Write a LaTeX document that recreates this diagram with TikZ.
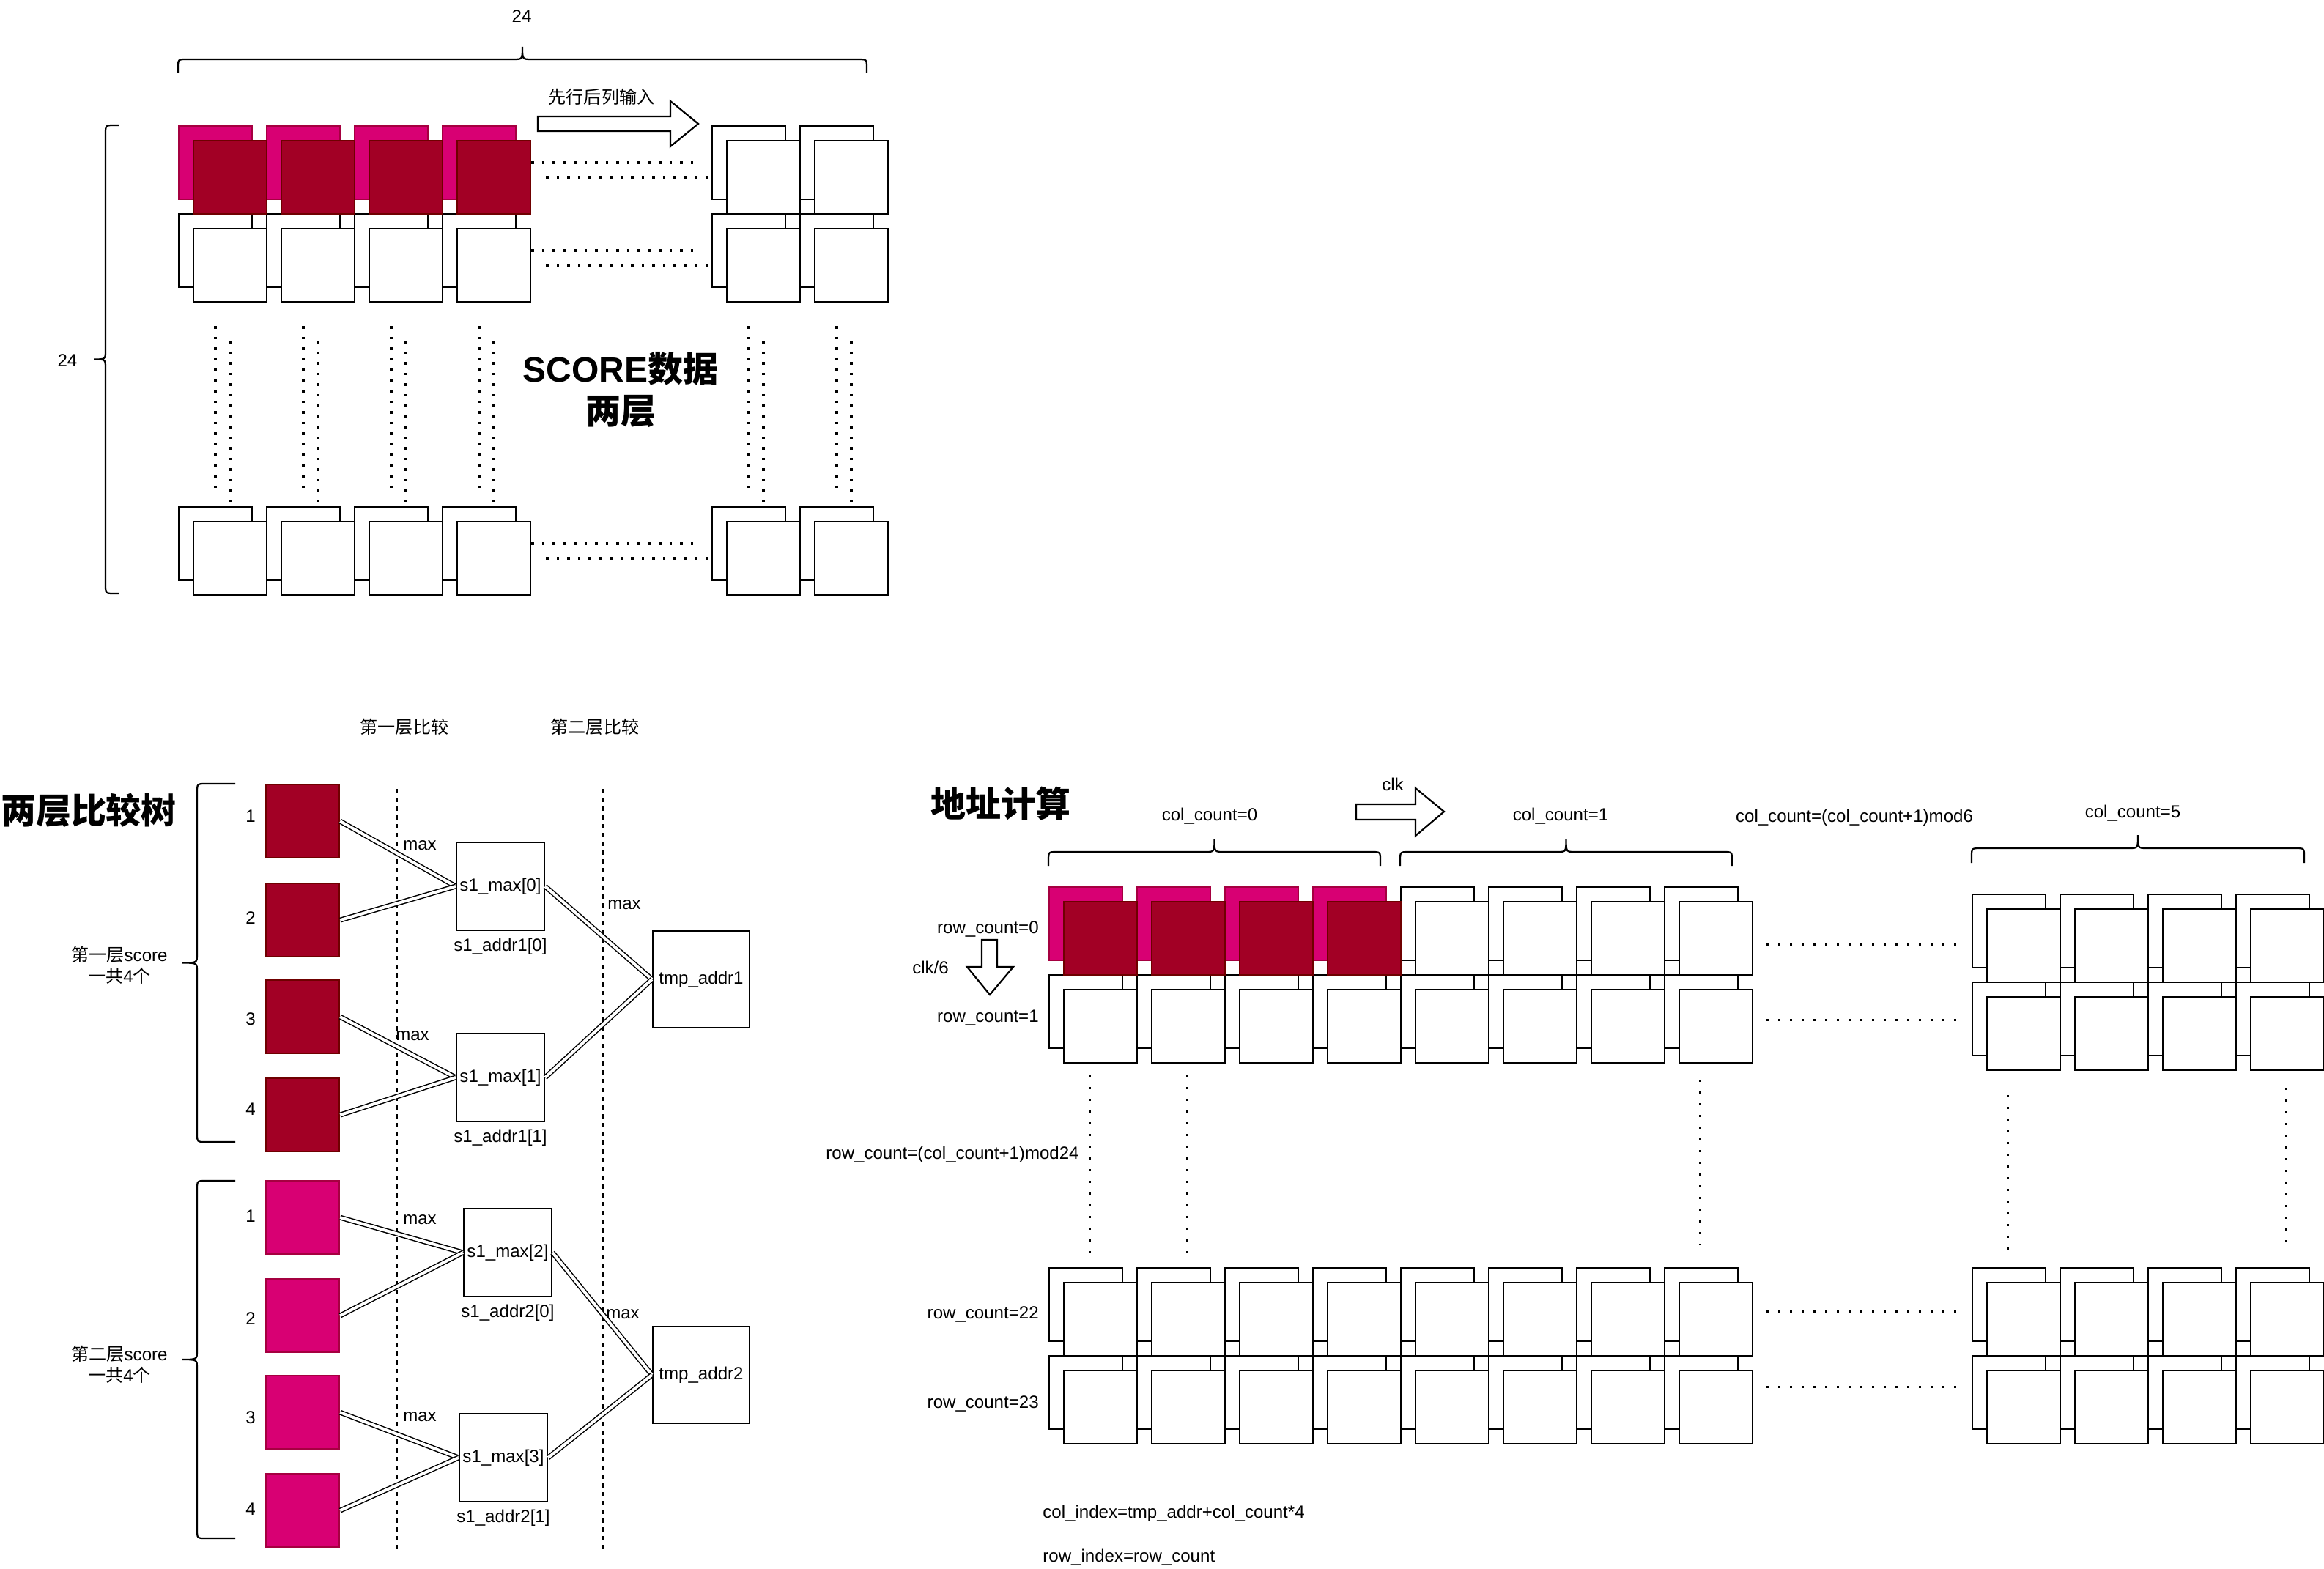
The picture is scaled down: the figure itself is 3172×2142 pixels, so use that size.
\documentclass[tikz,border=0pt]{standalone}
\usepackage{fontspec}
\setmainfont{Liberation Sans}
\newfontfamily\cjk{Noto Sans CJK SC}
\usetikzlibrary{positioning}

\definecolor{pfill}{HTML}{D80073}
\definecolor{pline}{HTML}{A50040}
\definecolor{rfill}{HTML}{A20025}
\definecolor{rline}{HTML}{6F0000}
\colorlet{wfill}{white}
\colorlet{wline}{black}

% curly brackets: x left, x right, y of the ends, y of the bar, y of the tip
\newcommand{\hbrace}[5]{%
  \pgfmathsetmacro{\bxm}{(#1+#2)/2}
  \draw[brace] (#1,#3) -- (#1,#4+12) .. controls (#1,#4) .. (#1+12,#4) -- (\bxm-12,#4)
    .. controls (\bxm,#4) .. (\bxm,#5) .. controls (\bxm,#4) .. (\bxm+12,#4)
    -- (#2-12,#4) .. controls (#2,#4) .. (#2,#4+12) -- (#2,#3);}
% x of the ends, x of the bar, x of the tip, y top, y bottom
\newcommand{\vbrace}[5]{%
  \pgfmathsetmacro{\bym}{(#4+#5)/2}
  \draw[brace] (#1,#4) -- (#2+12,#4) .. controls (#2,#4) .. (#2,#4+12) -- (#2,\bym-12)
    .. controls (#2,\bym) .. (#3,\bym) .. controls (#2,\bym) .. (#2,\bym+12)
    -- (#2,#5-12) .. controls (#2,#5) .. (#2+12,#5) -- (#1,#5);}

\begin{document}
\begin{tikzpicture}[x=0.2mm, y=-0.2mm,
lbl/.style={font=\fontsize{13.7}{16.5}\selectfont, inner sep=0pt, align=center},
txt/.style={lbl, yshift=-0.7mm},
ttl/.style={font=\fontsize{27.3}{32.4}\selectfont\bfseries, inner sep=0pt, align=center},
cell/.style={draw=#1line, fill=#1fill, line width=0.45mm, minimum width=20mm, minimum height=20mm, inner sep=0pt, anchor=north west},
cell/.default=w,
sbox/.style={draw, line width=0.45mm, minimum width=24mm, minimum height=24mm, inner sep=0pt, font=\fontsize{13.7}{16.5}\selectfont},
tbox/.style={sbox, minimum width=26.4mm, minimum height=26.4mm},
link/.style={double, double distance=0.8mm, line width=0.3mm},
guide/.style={line width=0.3mm, dash pattern=on 1.2mm off 1.2mm},
dotsA/.style={line width=0.7mm, dash pattern=on 0.7mm off 2.2mm},
dotsB/.style={line width=0.6mm, dash pattern=on 0.6mm off 2.6mm},
blockarr/.style={draw, fill=white, line width=0.45mm},
brace/.style={line width=0.45mm}
]
\useasboundingbox (0,0) rectangle (3172,2142);

% ---- SCORE data, two layers
\foreach \r/\y in {1/171,2/291,24/691}
  \foreach \c/\x in {1/243,2/363,3/483,4/603,5/971,6/1091} {
    \def\k{w}\ifnum\r=1 \ifnum\c<5 \def\k{p}\fi\fi
    \node[cell=\k] (bk-\r-\c) at (\x,\y) {};
  }
\foreach \r/\y in {1/171,2/291,24/691}
  \foreach \c/\x in {1/243,2/363,3/483,4/603,5/971,6/1091} {
    \def\k{w}\ifnum\r=1 \ifnum\c<5 \def\k{r}\fi\fi
    \node[cell=\k] (fr-\r-\c) at (\x+20,\y+20) {};
  }
\foreach \r in {1,2,24} {
  \draw[dotsA, shorten <=4mm, shorten >=4mm] (bk-\r-4.east) -- (bk-\r-5.west);
  \draw[dotsA, shorten <=4mm, shorten >=4mm] (fr-\r-4.east) -- (fr-\r-5.west);
}
\foreach \c in {1,...,6} {
  \draw[dotsA, shorten <=10.4mm, shorten >=4mm] (bk-2-\c.south) -- (bk-24-\c.north);
  \draw[dotsA, shorten <=10.4mm, shorten >=4mm] (fr-2-\c.south) -- (fr-24-\c.north);
}
\hbrace{243}{1183}{100}{81}{64}
\vbrace{162}{144}{128}{171}{810}
\node[lbl] (ncols) at (712,22) {24};
\node[lbl] (nrows) at (92,492) {24};
\draw[blockarr] (734,159) -- (915,159) -- (915,138) -- (953,169) -- (915,200) -- (915,179) -- (734,179) -- cycle;
\node[lbl] (order) at (821,132) {\cjk 先行后列输入};
\node[ttl] (score) at (847,532) {SCORE{\cjk 数据}\\{\cjk 两层}};

% ---- two level compare tree
\node[ttl] (tree) at (121,1106) {\cjk 两层比较树};
\node[lbl] (cmp1) at (552,992) {\cjk 第一层比较};
\node[lbl] (cmp2) at (812,992) {\cjk 第二层比较};
\draw[guide] (542,1077) -- (542,2115);
\draw[guide] (823,1077) -- (823,2115);
\foreach \i/\y/\ny in {1/1070/1111,2/1205/1250,3/1337/1388,4/1471/1511} {
  \node[cell=r] (sa\i) at (362,\y) {};
  \node[txt] (na\i) at (342,\ny) {\i};
}
\foreach \i/\y/\ny in {1/1611/1657,2/1745/1797,3/1877/1932,4/2011/2057} {
  \node[cell=p] (sb\i) at (362,\y) {};
  \node[txt] (nb\i) at (342,\ny) {\i};
}
\vbrace{321}{269}{248}{1070}{1559}
\vbrace{321}{269}{248}{1612}{2100}
\node[lbl] (grpA) at (163,1318) {{\cjk 第一层}score\\{\cjk 一共}4{\cjk 个}};
\node[lbl] (grpB) at (163,1863) {{\cjk 第二层}score\\{\cjk 一共}4{\cjk 个}};
\node[sbox] (m0) at (683,1210) {s1\_max[0]};
\node[sbox] (m1) at (683,1471) {s1\_max[1]};
\node[sbox] (m2) at (693,1710) {s1\_max[2]};
\node[sbox] (m3) at (687,1990) {s1\_max[3]};
\node[lbl, below=2mm of m0] (a0) {s1\_addr1[0]};
\node[lbl, below=2mm of m1] (a1) {s1\_addr1[1]};
\node[lbl, below=2mm of m2] (a2) {s1\_addr2[0]};
\node[lbl, below=2mm of m3] (a3) {s1\_addr2[1]};
\node[tbox] (t1) at (957,1337) {tmp\_addr1};
\node[tbox] (t2) at (957,1877) {tmp\_addr2};
\foreach \s/\m in {sa1/m0,sa2/m0,sa3/m1,sa4/m1,sb1/m2,sb2/m2,sb3/m3,sb4/m3,m0/t1,m1/t1,m2/t2,m3/t2}
  \draw[link] (\s.east) -- (\m.west);
\node[txt] (mx1) at (573,1151) {max};
\node[txt] (mx2) at (563,1411) {max};
\node[txt] (mx3) at (852,1232) {max};
\node[txt] (mx4) at (573,1662) {max};
\node[txt] (mx5) at (850,1791) {max};
\node[txt] (mx6) at (573,1931) {max};

% ---- address calculation
\node[ttl] (addr) at (1366,1097) {\cjk 地址计算};
\foreach \r/\y in {0/1210,1/1330,22/1730,23/1850}
  \foreach \c in {1,...,8} {
    \def\k{w}\ifnum\r=0 \ifnum\c<5 \def\k{p}\fi\fi
    \node[cell=\k] (gb-\r-\c) at ({1431+120*(\c-1)},\y) {};
  }
\foreach \r/\y in {0/1220,1/1340,22/1730,23/1850}
  \foreach \c in {9,...,12}
    \node[cell] (gb-\r-\c) at ({2691+120*(\c-9)},\y) {};
\foreach \r/\y in {0/1230,1/1350,22/1750,23/1870}
  \foreach \c in {1,...,8} {
    \def\k{w}\ifnum\r=0 \ifnum\c<5 \def\k{r}\fi\fi
    \node[cell=\k] (gf-\r-\c) at ({1451+120*(\c-1)},\y) {};
  }
\foreach \r/\y in {0/1240,1/1360,22/1750,23/1870}
  \foreach \c in {9,...,12}
    \node[cell] (gf-\r-\c) at ({2711+120*(\c-9)},\y) {};
\foreach \y in {1289,1392,1790,1893}
  \draw[dotsB] (2411,\y) -- (2672,\y);
\draw[dotsB] (1487,1468) -- (1487,1710);
\draw[dotsB] (1620,1468) -- (1620,1710);
\draw[dotsB] (2320,1474) -- (2320,1699);
\draw[dotsB] (2740,1495) -- (2740,1718);
\draw[dotsB] (3120,1485) -- (3120,1709);
\hbrace{1431}{1884}{1182}{1163}{1145}
\hbrace{1911}{2364}{1182}{1163}{1145}
\hbrace{2691}{3145}{1178}{1158}{1140}
\node[txt] (cc0) at (1651,1111) {col\_count=0};
\node[txt] (cc1) at (2130,1111) {col\_count=1};
\node[txt] (ccn) at (2531,1113) {col\_count=(col\_count+1)mod6};
\node[txt] (cc5) at (2911,1107) {col\_count=5};
\draw[blockarr] (1851,1098) -- (1932,1098) -- (1932,1076) -- (1971,1108) -- (1932,1141) -- (1932,1119) -- (1851,1119) -- cycle;
\node[lbl] (clk) at (1901,1071) {clk};
\draw[blockarr] (1340,1283) -- (1361,1283) -- (1361,1320) -- (1383,1320) -- (1351,1358) -- (1320,1320) -- (1340,1320) -- cycle;
\node[lbl] (clk6) at (1270,1321) {clk/6};
\node[txt, anchor=east] (rc0) at (1418,1265) {row\_count=0};
\node[txt, anchor=east] (rc1) at (1418,1386) {row\_count=1};
\node[txt, anchor=east] (rcn) at (1473,1573) {row\_count=(col\_count+1)mod24};
\node[txt, anchor=east] (rc22) at (1418,1791) {row\_count=22};
\node[txt, anchor=east] (rc23) at (1418,1913) {row\_count=23};
\node[txt, anchor=west] (cidx) at (1423,2063) {col\_index=tmp\_addr+col\_count*4};
\node[txt, anchor=west] (ridx) at (1423,2123) {row\_index=row\_count};
\end{tikzpicture}
\end{document}
